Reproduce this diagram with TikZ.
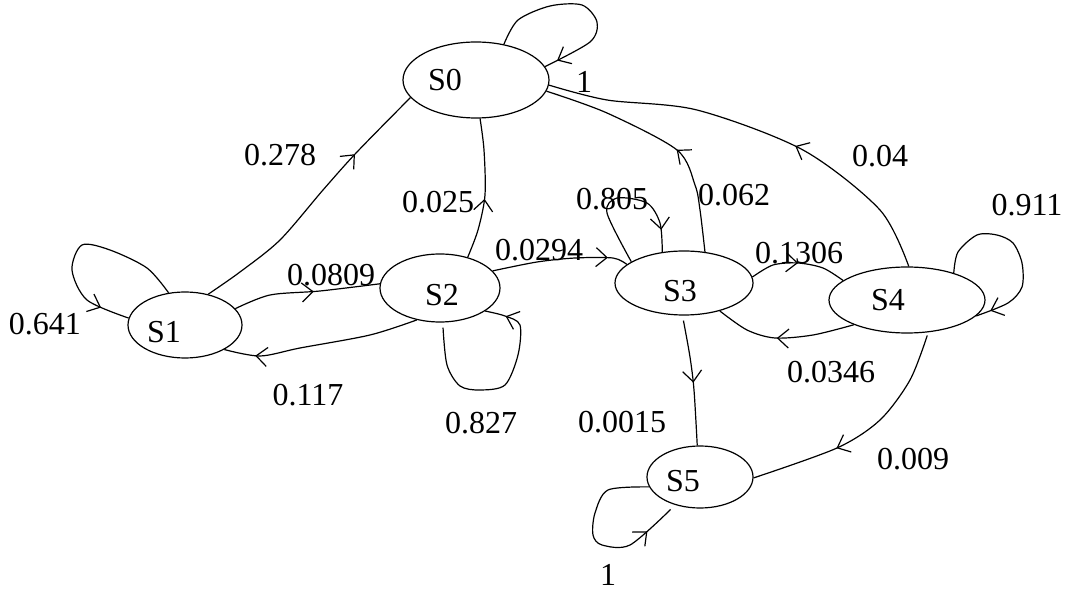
\documentclass[tikz,border=0pt]{standalone}
\usepackage{fontspec}
\setmainfont{Liberation Serif}
\usetikzlibrary{shapes.geometric,arrows.meta,decorations.markings}

\begin{document}
\begin{tikzpicture}[x=1pt,y=-1pt,
  font=\fontsize{32}{38}\selectfont,
  state/.style={draw,ellipse,inner sep=0pt,line width=1.2pt},
  edge/.style={line width=1.2pt},
  arr/.style={postaction={decorate},
    decoration={markings,mark=at position #1 with
      {\arrow{Straight Barb[length=11pt,width=19pt,line width=1.2pt]}}}},
  prob/.style={inner sep=0pt}]

\useasboundingbox (0,0) rectangle (1072,593);

% states
\node[state,minimum width=146,minimum height=76,label={[xshift=-31pt]center:S0}] (S0) at (476,80) {};
\node[state,minimum width=114,minimum height=66,label={[xshift=-21pt,yshift=-7pt]center:S1}] (S1) at (185,325) {};
\node[state,minimum width=120,minimum height=68,label={[xshift=2pt,yshift=-7pt]center:S2}] (S2) at (440,288) {};
\node[state,minimum width=138,minimum height=64,label={[xshift=-4pt,yshift=-8pt]center:S3}] (S3) at (684,283) {};
\node[state,minimum width=156,minimum height=66,label={[xshift=-19pt]center:S4}] (S4) at (907,300) {};
\node[state,minimum width=106,minimum height=62,label={[xshift=-17pt,yshift=-4pt]center:S5}] (S5) at (700,477) {};

% self loops
\draw[edge,arr=0.93] plot[smooth] coordinates {(S0.52) (518,20) (550,6) (582,5) (597,22) (590,42) (S0.11)};
\draw[edge,arr=0.86] plot[smooth] coordinates {(S1.117) (147,268) (110,250) (82,245) (72,270) (87,300) (S1.173)};
\draw[edge,arr=0.9] plot[smooth] coordinates {([yshift=-5pt]S2.-85) (447,365) (460,386) (480,390) (505,385) (518,355) (520,325) (505,316) (S2.-27)};
\draw[edge,arr=0.86] plot[smooth] coordinates {(S3.158) (607,213) (617,198) (647,203) (660,223) (S3.125)};
\draw[edge,arr=0.92] plot[smooth] coordinates {(S4.30) (958,252) (977,235) (997,235) (1013,243) (1022,263) (1022,287) (1008,303) (S4.-13)};
\draw[edge,arr=0.83] plot[smooth] coordinates {(S5.191) (608,490) (595,513) (593,535) (602,545) (630,545) ([yshift=-6pt]S5.222)};

% transitions into S0
\draw[edge,arr=0.4] plot[smooth] coordinates {(S4.87) (880,210) (803,150) (697,110) (607,100) (S0.-4)};
\draw[edge,arr=0.43] plot[smooth] coordinates {(S3.56) (700,210) (695,185) (677,150) (607,113) (S0.-9)};
\draw[edge,arr=0.43] plot[smooth] coordinates {(S2.48) (478,230) (485,195) (484,150) (S0.-84)};
\draw[edge,arr=0.72] plot[smooth] coordinates {(S1.53) (240,272) (280,240) (323,190) (357,152) (S0.195)};

% remaining transitions
\draw[edge,arr=0.55] plot[smooth] coordinates {(S1.18) (270,295) (320,291) (S2.176)};
\draw[edge,arr=0.84] plot[smooth] coordinates {(S2.234) (370,335) (300,348) (260,356) (S1.-32)};
\draw[edge,arr=0.85] plot[smooth] coordinates {(S2.18) (537,262) (575,258) (613,258) (S3.162)};
\draw[edge,arr=0.5] plot[smooth] coordinates {(S3.5) (773,265) (798,263) (823,268) (S4.163)};
\draw[edge,arr=0.55] plot[smooth] coordinates {(S4.205) (813,335) (775,338) (747,330) (S3.-38)};
\draw[edge,arr=0.5] plot[smooth] coordinates {([yshift=-5pt]S3.-91) (690,357) (694,390) (S5.95)};
\draw[edge,arr=0.63] plot[smooth] coordinates {([yshift=-3pt]S4.-58) (910,380) (880,420) (837,448) (S5.-1)};

% transition probabilities
\node[prob] (p00) at (584,82) {1};
\node[prob] (p10) at (280,155) {0.278};
\node[prob] (p20) at (438,202) {0.025};
\node[prob] (p33) at (612,199) {0.805};
\node[prob] (p30) at (734,195) {0.062};
\node[prob] (p40) at (880,156) {0.04};
\node[prob] (p44) at (1027,205) {0.911};
\node[prob] (p12) at (331,275) {0.0809};
\node[prob] (p23) at (539,250) {0.0294};
\node[prob] (p34) at (799,253) {0.1306};
\node[prob] (p11) at (45,324) {0.641};
\node[prob] (p21) at (308,395) {0.117};
\node[prob] (p22) at (481,423) {0.827};
\node[prob] (p43) at (831,372) {0.0346};
\node[prob] (p35) at (622,422) {0.0015};
\node[prob] (p45) at (913,459) {0.009};
\node[prob] (p55) at (608,575) {1};
\end{tikzpicture}
\end{document}
